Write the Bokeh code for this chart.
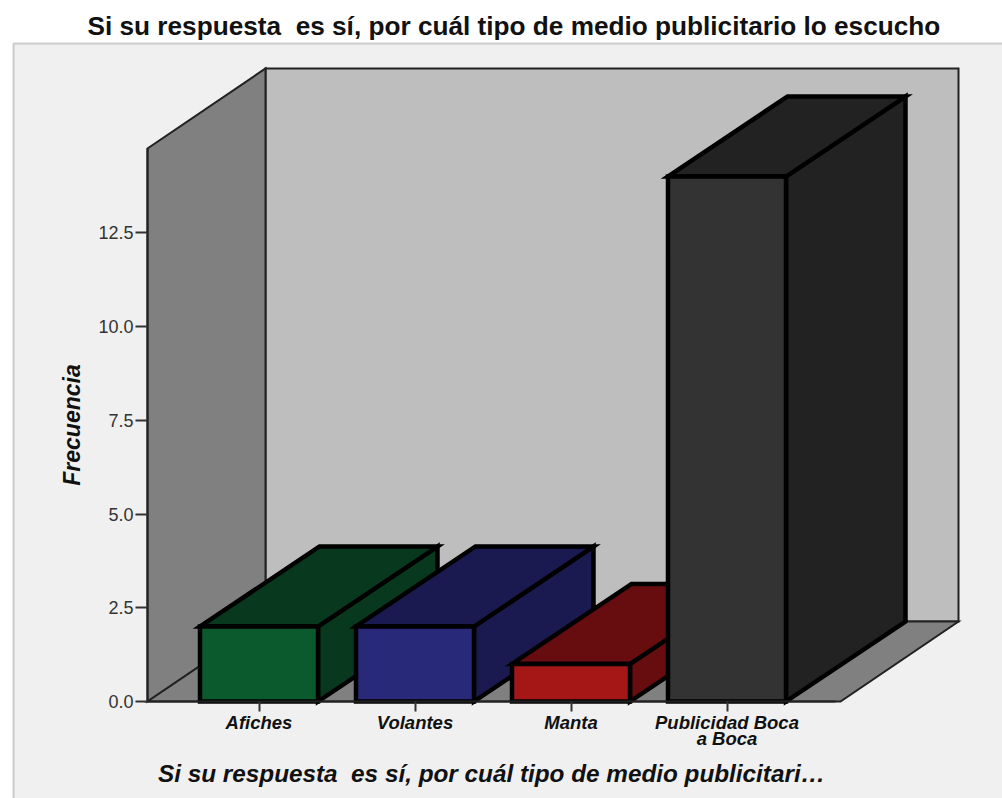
from bokeh.plotting import figure
from bokeh.models import Range1d, LinearAxis, FixedTicker, NumeralTickFormatter, Title, BoxAnnotation
from bokeh.embed import file_html
from bokeh.resources import INLINE

TITLE = "Si su respuesta\u00a0 es sí, por cuál tipo de medio publicitario lo escucho"
XLABEL = "Si su respuesta\u00a0 es sí, por cuál tipo de medio publicitari…"
YLABEL = "Frecuencia"
categories = ["Afiches", "Volantes", "Manta", "Publicidad Boca\na Boca"]
values = [2, 2, 1, 14]
y_ticks = [0, 2.5, 5, 7.5, 10, 12.5]
front_colors = ["#0b5a2e", "#29297a", "#a51616", "#333333"]
side_colors = ["#08381e", "#1a1a50", "#680d0f", "#222222"]

# Pixel geometry of the chart frame
PX_UNIT_X = 156.0
PX_UNIT_Y = 37.5
X0_PX = 258.5
Y0_PX = 701.0
FRAME_TOP = 40
FRAME_BOTTOM = 798
FRAME_LEFT = 0
FRAME_RIGHT = 1002

bar_w = 118 / PX_UNIT_X
dx = 119.5 / PX_UNIT_X
wall_dx = 118 / PX_UNIT_X
dy = 80 / PX_UNIT_Y
wall_left = (147 - X0_PX) / PX_UNIT_X
wall_right = wall_left + (840 - 147) / PX_UNIT_X
wall_top = (701 - 148) / PX_UNIT_Y

p = figure(
    frame_width=FRAME_RIGHT - FRAME_LEFT,
    frame_height=FRAME_BOTTOM - FRAME_TOP,
    x_range=Range1d((FRAME_LEFT - X0_PX) / PX_UNIT_X, (FRAME_RIGHT - X0_PX) / PX_UNIT_X),
    y_range=Range1d((Y0_PX - FRAME_BOTTOM) / PX_UNIT_Y, (Y0_PX - FRAME_TOP) / PX_UNIT_Y),
    x_axis_type=None, y_axis_type=None,
    toolbar_location=None, output_backend="svg",
    min_border=0, min_border_left=0, min_border_right=0, min_border_top=40, min_border_bottom=0,
    background_fill_color="white", border_fill_color="white", outline_line_color=None,
)

p.title = Title(text=TITLE, text_font="Liberation Sans", text_font_size="26.2px",
                text_font_style="bold", text_color="#111111", align="left",
                offset=87, standoff=0)

p.add_layout(BoxAnnotation(left=(13 - X0_PX) / PX_UNIT_X, right=(1030 - X0_PX) / PX_UNIT_X,
                           top=(Y0_PX - 43) / PX_UNIT_Y, bottom=(Y0_PX - 830) / PX_UNIT_Y,
                           fill_color="#f0f0f0", fill_alpha=1,
                           line_color="#666666", line_width=2, level="underlay"))

WALL = dict(line_color="#222222", line_width=2, line_join="miter")
# back wall
p.patch([wall_left + wall_dx, wall_right + wall_dx, wall_right + wall_dx, wall_left + wall_dx],
        [dy, dy, wall_top + dy, wall_top + dy], fill_color="#bebebe", **WALL)
# left wall
p.patch([wall_left, wall_left + wall_dx, wall_left + wall_dx, wall_left],
        [0, dy, wall_top + dy, wall_top], fill_color="#808080", **WALL)
# floor
p.patch([wall_left, wall_left + wall_dx, wall_right + wall_dx, wall_right],
        [0, dy, dy, 0], fill_color="#808080", **WALL)

BAR = dict(line_color="#000000", line_width=4.5, line_join="miter")
for i, (v, fc, sc) in enumerate(zip(values, front_colors, side_colors)):
    l, r = i - bar_w / 2, i + bar_w / 2
    # side
    p.patch([r, r + dx, r + dx, r], [0, dy, v + dy, v], fill_color=sc, **BAR)
    # top
    p.patch([l, r, r + dx, l + dx], [v, v, v + dy, v + dy], fill_color=sc, **BAR)
    # front
    p.patch([l, r, r, l], [0, 0, v, v], fill_color=fc, **BAR)

yaxis = LinearAxis(
    fixed_location=wall_left, bounds=(0, wall_top),
    ticker=FixedTicker(ticks=y_ticks), formatter=NumeralTickFormatter(format="0.0"),
    major_tick_in=0, major_tick_out=12, minor_tick_in=0, minor_tick_out=0,
    major_tick_line_color="#333333", major_tick_line_width=2,
    axis_line_color="#222222", axis_line_width=2,
    major_label_text_font="Liberation Sans", major_label_text_font_size="18px",
    major_label_text_color="#333333", major_label_standoff=2,
    axis_label=YLABEL, axis_label_text_font="Liberation Sans",
    axis_label_text_font_size="23px", axis_label_text_font_style="bold italic",
    axis_label_text_color="#111111", axis_label_standoff=10,
)
p.add_layout(yaxis, "left")

xaxis = LinearAxis(
    fixed_location=0, bounds=(wall_left, wall_right - 5 / PX_UNIT_X),
    ticker=FixedTicker(ticks=list(range(len(categories)))),
    major_label_overrides={i: c for i, c in enumerate(categories)},
    major_tick_in=0, major_tick_out=10, minor_tick_in=0, minor_tick_out=0,
    major_tick_line_color="#333333", major_tick_line_width=2,
    axis_line_color="#222222", axis_line_width=2,
    major_label_text_font="Liberation Sans", major_label_text_font_size="18.5px",
    major_label_text_font_style="bold italic", major_label_text_color="#111111",
    major_label_text_line_height=0.8,
    major_label_standoff=0,
    axis_label=XLABEL, axis_label_text_font="Liberation Sans",
    axis_label_text_font_size="24.3px", axis_label_text_font_style="bold italic",
    axis_label_text_color="#111111", axis_label_standoff=8,
)
p.add_layout(xaxis, "below")

open("out.html", "w").write(file_html(p, INLINE))
